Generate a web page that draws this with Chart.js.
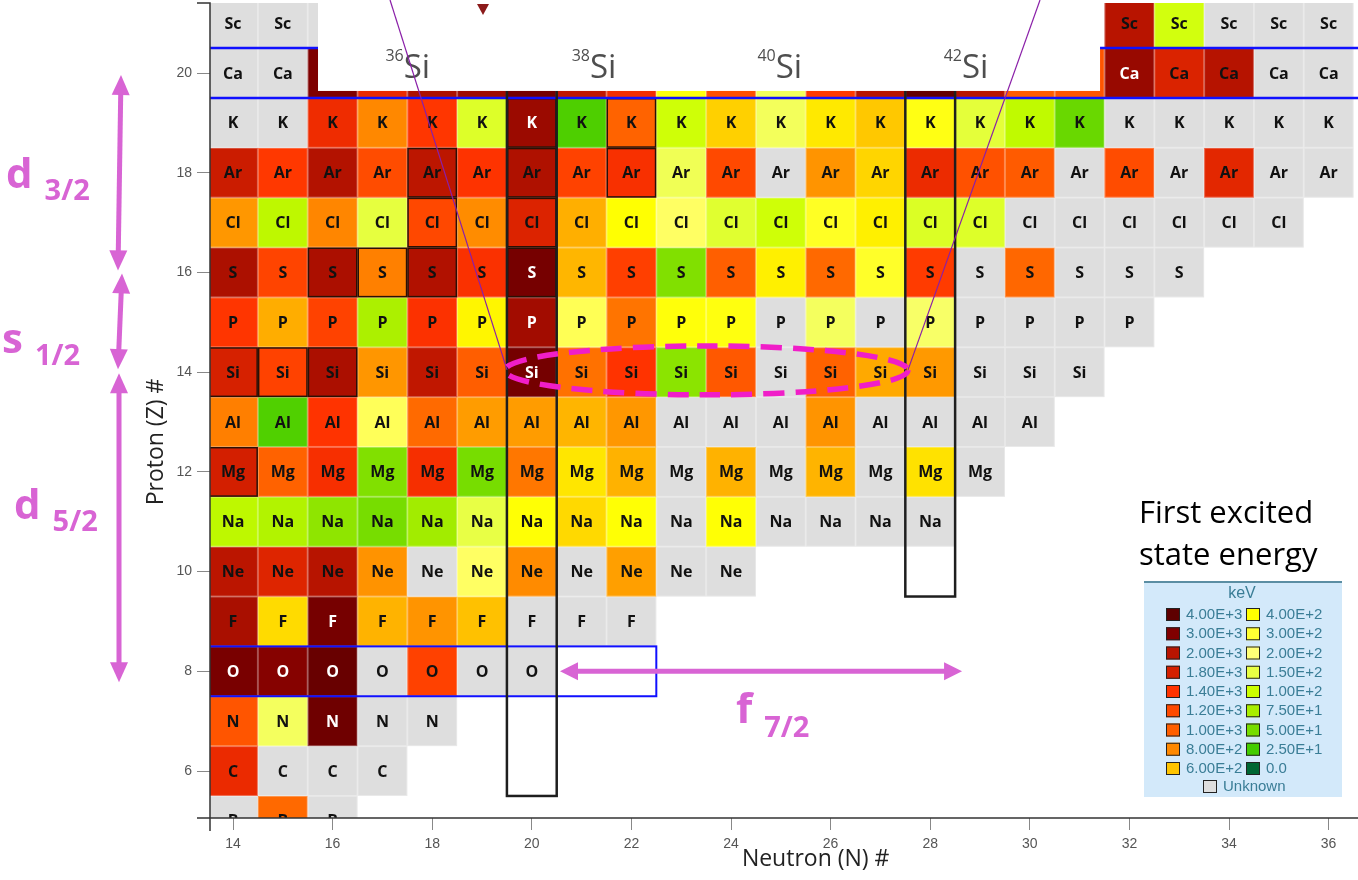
<!DOCTYPE html>
<html>
<head>
<meta charset="utf-8">
<title>First excited state energy</title>
<script src="https://cdn.jsdelivr.net/npm/chart.js@4.4.1/dist/chart.umd.min.js"></script>
<style>
  body { margin: 0; background: #fff; }
  canvas { display: block; }
</style>
</head>
<body>
<canvas id="chart" width="1358" height="880"></canvas>
<script>
// columns start at N = 14, rows start at Z = 5
const firstN = 14;
const firstZ = 5;
const symbols = ['B', 'C', 'N', 'O', 'F', 'Ne', 'Na', 'Mg', 'Al', 'Si', 'P', 'S', 'Cl', 'Ar', 'K', 'Ca', 'Sc'];

const U = null;       // nuclide shown, energy unknown (grey)
const X = undefined;  // no cell (or hidden under the inset)

// first excited state energy (keV), one array per element, index 0 = N 14
const eB  = [U, 950, U];
const eC  = [1588, U, U, U];
const eN  = [1100, 175, 3500, U, U];
const eO  = [3199, 2900, 3700, U, 1280, U, U];
const eF  = [2268, 522, 3300, 657, 760, 610, U, U, U];
const eNe = [1982, 1703, 2018, 765, U, 230, 791, U, 722, U, U];
const eNa = [90, 82, 62, 50, 72, 151, 390, 530, 390, U, 390, U, U, U, U];
const eMg = [1809, 985, 1474, 55, 1483, 50, 885, 484, 660, U, 660, U, 655, U, 500, U];
const eAl = [844, 31, 1398, 244, 947, 735, 735, 650, 750, U, U, U, 760, U, U, U, U];
const eSi = [1779, 1273, 2235, 752, 1942, 1010, 3327, 910, 1399, 60, 1071, U, 986, 690, 742, U, U, U];
const eP  = [1384, 677, 1266, 78, 1432, 429, 2386, 250, 900, 380, 370, U, 175, U, 184, U, U, U, U];
const eS  = [2211, 1249, 2230, 841, 2128, 1450, 3291, 646, 1292, 55, 1000, 450, 950, 320, 1329, U, 960, U, U, U];
const eCl = [750, 90, 811, 146, 1219, 788, 1727, 671, 396, 230, 135, 105, 330, 450, 127, 130, U, U, U, U, U, U];
const eAr = [1867, 1359, 2091, 1184, 1970, 1410, 2168, 1267, 1461, 167, 1208, U, 760, 542, 1577, 1130, 1037, U, 1178, U, 1656, U, U];
const eK  = [U, U, 1550, 800, 1371, 130, 2523, 30, 980, 105, 561, 173, 474, 587, 360, 143, 92, 43, U, U, U, U, U];
const eCa = [U, U, 3045, 1600, 2206, 2470, 3353, 1943, 1525, 373, 1157, 174, 1346, 2014, 3832, 2023, 1027, 1100, 2563, 1740, 2043, U, U];
const eSc = [U, U, U, X, X, X, X, X, X, X, X, X, X, X, X, X, X, X, 2000, 110, U, U, U];

const rows = [eB, eC, eN, eO, eF, eNe, eNa, eMg, eAl, eSi, eP, eS, eCl, eAr, eK, eCa, eSc];

// stable nuclides drawn with a thin outline, [N, Z]
const stable = [[14, 14], [15, 14], [16, 14], [16, 16], [17, 16], [18, 16], [20, 16], [18, 17], [20, 17],
                [18, 18], [20, 18], [22, 18], [20, 19], [22, 19], [14, 12]];

// colour scale (keV)
const stopValues = [4000, 3000, 2000, 1800, 1400, 1200, 1000, 800, 600, 400, 300, 200, 150, 100, 75, 50, 25, 0];
const stopColors = ['#5e0000', '#800000', '#b81400', '#d42000', '#ff3300', '#ff4a00', '#ff5f00', '#ff8800', '#ffc400',
                    '#ffff00', '#ffff33', '#ffff77', '#e8ff44', '#ccff00', '#a8ee00', '#77dd00', '#44cc00', '#006633'];
const unknownColor = '#dedede';

function hexToRgb(h) {
  const n = parseInt(h.slice(1), 16);
  return [n >> 16, (n >> 8) & 255, n & 255];
}

function colorFor(v) {
  if (v >= stopValues[0]) return stopColors[0];
  for (let i = 1; i < stopValues.length; i++) {
    if (v >= stopValues[i]) {
      const t = (v - stopValues[i]) / (stopValues[i - 1] - stopValues[i]);
      const a = hexToRgb(stopColors[i]), b = hexToRgb(stopColors[i - 1]);
      return 'rgb(' + a.map((c, k) => Math.round(c + (b[k] - c) * t)).join(',') + ')';
    }
  }
  return stopColors[stopColors.length - 1];
}

const cells = [];
rows.forEach((row, i) => row.forEach((v, j) => {
  if (v === X) return;
  cells.push({ x: firstN + j, y: firstZ + i, v: v, sym: symbols[i] });
}));

const pink = '#d864d4';
const legendBlue = '#3a7d96';

// draw every nuclide as a square cell through the scales
const cellPlugin = {
  id: 'cells',
  beforeDatasetsDraw(chart) {
    const { ctx, chartArea: a, scales: { x, y } } = chart;
    ctx.save();
    ctx.beginPath();
    ctx.rect(a.left, a.top, a.right - a.left, a.bottom - a.top);
    ctx.clip();
    ctx.font = 'bold 16px "Open Sans"';
    ctx.textAlign = 'center';
    ctx.textBaseline = 'middle';
    chart.data.datasets[0].data.forEach(p => {
      const x0 = x.getPixelForValue(p.x - 0.5), x1 = x.getPixelForValue(p.x + 0.5);
      const y0 = y.getPixelForValue(p.y + 0.5), y1 = y.getPixelForValue(p.y - 0.5);
      ctx.fillStyle = p.v == null ? unknownColor : colorFor(p.v);
      ctx.fillRect(x0, y0, x1 - x0, y1 - y0);
      ctx.strokeStyle = 'rgba(255,255,255,0.3)';
      ctx.lineWidth = 1;
      ctx.strokeRect(x0 + 0.5, y0 + 0.5, x1 - x0 - 1, y1 - y0 - 1);
      ctx.fillStyle = p.v != null && p.v >= 2300 ? '#fff' : '#111';
      ctx.fillText(p.sym, (x0 + x1) / 2, (y0 + y1) / 2 + 1);
    });
    // stable nuclides
    ctx.strokeStyle = '#2a1005';
    ctx.lineWidth = 1.5;
    stable.forEach(([n, z]) => {
      const x0 = x.getPixelForValue(n - 0.5), x1 = x.getPixelForValue(n + 0.5);
      const y0 = y.getPixelForValue(z + 0.5), y1 = y.getPixelForValue(z - 0.5);
      ctx.strokeRect(x0 + 0.75, y0 + 0.75, x1 - x0 - 1.5, y1 - y0 - 1.5);
    });
    ctx.restore();
  }
};

function doubleArrow(ctx, x0, y0, x1, y1, head, hw) {
  const ang = Math.atan2(y1 - y0, x1 - x0);
  const ux = Math.cos(ang), uy = Math.sin(ang);
  ctx.beginPath();
  ctx.moveTo(x0 + ux * head * 0.8, y0 + uy * head * 0.8);
  ctx.lineTo(x1 - ux * head * 0.8, y1 - uy * head * 0.8);
  ctx.stroke();
  [[x0, y0, -1], [x1, y1, 1]].forEach(([tx, ty, s]) => {
    ctx.beginPath();
    ctx.moveTo(tx, ty);
    ctx.lineTo(tx - s * ux * head - uy * hw, ty - s * uy * head + ux * hw);
    ctx.lineTo(tx - s * ux * head + uy * hw, ty - s * uy * head - ux * hw);
    ctx.closePath();
    ctx.fill();
  });
}

function orbital(ctx, letter, sub, x, yBase, ySub) {
  ctx.font = 'bold 42px "Open Sans"';
  ctx.textAlign = 'left';
  ctx.textBaseline = 'alphabetic';
  ctx.fillText(letter, x, yBase);
  const w = ctx.measureText(letter).width;
  ctx.font = 'bold 29px "Open Sans"';
  ctx.fillText(sub, x + w + 12, ySub);
}

// shells, inset and labels on top of the chart
const overlayPlugin = {
  id: 'overlay',
  afterDraw(chart) {
    const { ctx, chartArea: a, scales: { x, y } } = chart;
    const px = n => x.getPixelForValue(n), py = z => y.getPixelForValue(z);

    ctx.save();
    ctx.beginPath();
    ctx.rect(a.left, a.top, a.right - a.left, a.bottom - a.top);
    ctx.clip();
    // Z = 20 shell lines
    ctx.strokeStyle = '#1010ff';
    ctx.lineWidth = 2.5;
    [20.5, 19.5].forEach(z => {
      ctx.beginPath();
      ctx.moveTo(a.left, py(z));
      ctx.lineTo(a.right, py(z));
      ctx.stroke();
    });
    // Z = 8 row box
    ctx.lineWidth = 2;
    ctx.strokeRect(px(13.5), py(8.5), px(22.5) - px(13.5), py(7.5) - py(8.5));
    // N = 20 and N = 28 columns
    ctx.strokeStyle = '#1e1e1e';
    ctx.lineWidth = 2.5;
    ctx.strokeRect(px(19.5), py(21.6), px(20.5) - px(19.5), py(5.5) - py(21.6));
    ctx.strokeRect(px(27.5), py(21.6), px(28.5) - px(27.5), py(9.5) - py(21.6));
    ctx.restore();

    // white inset with the Si labels
    ctx.fillStyle = '#fff';
    ctx.fillRect(px(15.707), 0, px(31.41) - px(15.707), py(19.64));
    const siLabels = [['36', 17.51], ['38', 21.25], ['40', 24.98], ['42', 28.72]];
    ctx.fillStyle = '#4e4e4e';
    ctx.textBaseline = 'alphabetic';
    ctx.textAlign = 'left';
    siLabels.forEach(([mass, n]) => {
      ctx.font = '16px "Open Sans"';
      const wm = ctx.measureText(mass).width;
      ctx.font = '33px "Open Sans"';
      const ws = ctx.measureText('Si').width;
      const left = px(n) - (wm + ws) / 2;
      ctx.font = '16px "Open Sans"';
      ctx.fillText(mass, left, py(20.24));
      ctx.font = '33px "Open Sans"';
      ctx.fillText('Si', left + wm, py(19.9));
    });
    // small marker at the top of the inset
    ctx.fillStyle = '#8b1a1a';
    ctx.beginPath();
    ctx.moveTo(px(19.02) - 6, 4);
    ctx.lineTo(px(19.02) + 6, 4);
    ctx.lineTo(px(19.02), 15);
    ctx.closePath();
    ctx.fill();

    // zoom lines
    ctx.strokeStyle = '#8a1fa8';
    ctx.lineWidth = 1.2;
    [[17.153, 19.502], [30.205, 27.554]].forEach(([nTop, nBot]) => {
      ctx.beginPath();
      ctx.moveTo(px(nTop), 0);
      ctx.lineTo(px(nBot), py(14.046));
      ctx.stroke();
    });

    // dashed ellipse around the Si isotopes
    ctx.strokeStyle = '#f01ec8';
    ctx.lineWidth = 5.5;
    ctx.setLineDash([21, 11]);
    ctx.beginPath();
    ctx.ellipse(px(23.508), py(14.036), px(23.508 + 4.046) - px(23.508), py(14.036 - 0.491) - py(14.036), 0, 0, Math.PI * 2);
    ctx.stroke();
    ctx.setLineDash([]);

    // shell arrows and labels
    ctx.strokeStyle = pink;
    ctx.fillStyle = pink;
    ctx.lineWidth = 5;
    doubleArrow(ctx, 121, py(19.96), 118, py(16.04), 20, 9);
    doubleArrow(ctx, 122, py(15.98), 118, py(14.06), 20, 9);
    doubleArrow(ctx, 119, py(13.98), 119, py(7.78), 20, 9);
    doubleArrow(ctx, px(20.566), py(8), px(28.639), py(8), 18, 9);
    orbital(ctx, 'd', '3/2', 6, 188, 200);
    orbital(ctx, 's', '1/2', 2, 353, 365);
    orbital(ctx, 'd', '5/2', 14, 519, 531);
    orbital(ctx, 'f', '7/2', 736, 723, 737);

    // legend title
    ctx.fillStyle = '#000';
    ctx.font = '31px "Open Sans"';
    ctx.fillText('First excited', 1139, 523);
    ctx.fillText('state energy', 1139, 565);

    // legend box
    const lx = 1144, ly = 582, lw = 198, lh = 215;
    ctx.fillStyle = '#d3e9fa';
    ctx.fillRect(lx, ly, lw, lh);
    ctx.strokeStyle = '#5b8ea3';
    ctx.lineWidth = 2;
    ctx.beginPath();
    ctx.moveTo(lx, ly);
    ctx.lineTo(lx + lw, ly);
    ctx.stroke();
    ctx.fillStyle = legendBlue;
    ctx.font = '16px "Liberation Sans"';
    ctx.textAlign = 'center';
    ctx.textBaseline = 'middle';
    ctx.fillText('keV', lx + lw / 2 - 1, 594);
    ctx.textAlign = 'left';
    ctx.font = '15px "Liberation Sans"';
    const fmt = v => v === 0 ? '0.0' : v.toExponential(2).toUpperCase();
    stopValues.forEach((v, i) => {
      const col = i < 9 ? 0 : 1;
      const row = i % 9;
      const sx = lx + 22 + col * 80, sy = 608 + row * 19.25;
      ctx.fillStyle = stopColors[i];
      ctx.fillRect(sx, sy, 14, 13);
      ctx.strokeStyle = '#222';
      ctx.lineWidth = 1;
      ctx.strokeRect(sx + 0.5, sy + 0.5, 13, 12);
      ctx.fillStyle = legendBlue;
      ctx.fillText(fmt(v), sx + 20, sy + 7);
    });
    ctx.fillStyle = unknownColor;
    ctx.fillRect(lx + 59, 780, 14, 13);
    ctx.strokeStyle = '#222';
    ctx.strokeRect(lx + 59.5, 780.5, 13, 12);
    ctx.fillStyle = legendBlue;
    ctx.fillText('Unknown', lx + 79, 787);

    // axis lines with the outer ticks
    ctx.strokeStyle = '#333';
    ctx.lineWidth = 1.5;
    ctx.beginPath();
    ctx.moveTo(a.left - 13, a.top);
    ctx.lineTo(a.left, a.top);
    ctx.lineTo(a.left, a.bottom);
    ctx.moveTo(a.left - 13, a.bottom);
    ctx.lineTo(a.right, a.bottom);
    ctx.moveTo(a.left, a.bottom);
    ctx.lineTo(a.left, a.bottom + 13);
    ctx.stroke();

    // axis titles
    ctx.fillStyle = '#222';
    ctx.font = '23px "Open Sans"';
    ctx.textAlign = 'center';
    ctx.textBaseline = 'middle';
    ctx.fillText('Neutron (N) #', px(25.7), 859);
    ctx.save();
    ctx.translate(156, py(12.6));
    ctx.rotate(-Math.PI / 2);
    ctx.fillText('Proton (Z) #', 0, 0);
    ctx.restore();
  }
};

const evenTicks = s => { s.ticks = s.ticks.filter(t => t.value >= s.min && t.value <= s.max && t.value % 2 === 0); };
// keep the plot area exactly where the reference has it
const fixX = s => { s.height = 62; s.paddingLeft = 0; s.paddingRight = 0; };
const fixY = s => { s.width = 210; s.paddingTop = 0; s.paddingBottom = 0; };

new Chart(document.getElementById('chart'), {
  type: 'scatter',
  data: { datasets: [{ data: cells, pointRadius: 0, pointHoverRadius: 0 }] },
  options: {
    responsive: false,
    animation: false,
    devicePixelRatio: 1,
    events: [],
    layout: { padding: { top: 3, left: 0, right: 0, bottom: 0 } },
    plugins: { legend: { display: false }, tooltip: { enabled: false } },
    scales: {
      x: {
        type: 'linear',
        position: 'bottom',
        min: 13.538,
        max: 36.59,
        afterFit: fixX,
        afterBuildTicks: evenTicks,
        ticks: { stepSize: 2, includeBounds: false, autoSkip: false, maxRotation: 0, padding: 6,
                 color: '#555', font: { family: 'Liberation Sans', size: 14 } },
        grid: { drawOnChartArea: false, drawTicks: true, tickLength: 12, color: '#888' },
        border: { display: false }
      },
      y: {
        type: 'linear',
        min: 5.058,
        max: 21.404,
        afterFit: fixY,
        afterBuildTicks: evenTicks,
        ticks: { stepSize: 2, includeBounds: false, autoSkip: false, padding: 5,
                 color: '#555', font: { family: 'Liberation Sans', size: 14 } },
        grid: { drawOnChartArea: false, drawTicks: true, tickLength: 13, color: '#888' },
        border: { display: false }
      }
    }
  },
  plugins: [cellPlugin, overlayPlugin]
});
</script>
</body>
</html>
